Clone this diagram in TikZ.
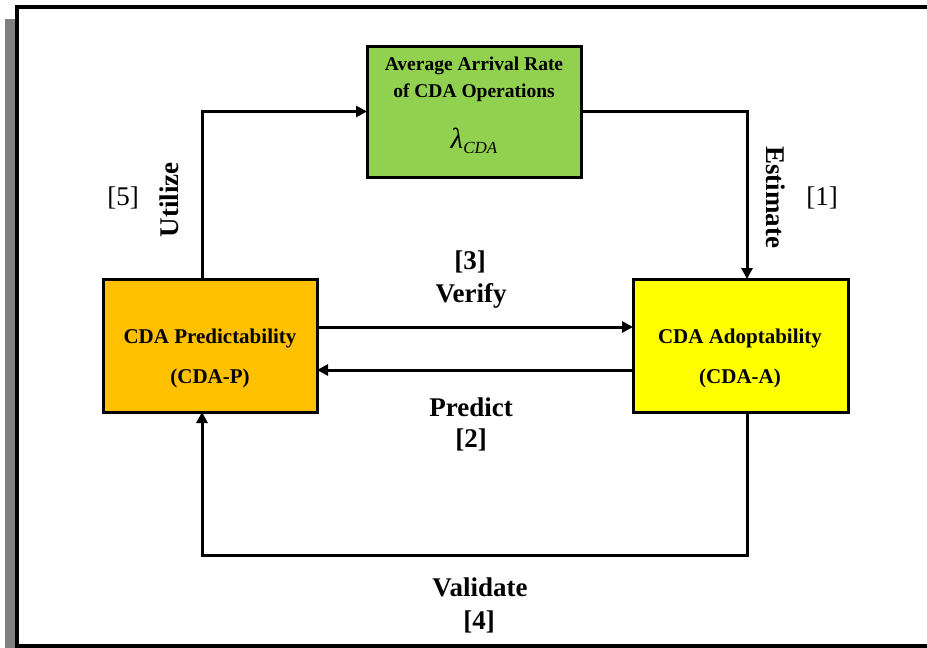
\documentclass[tikz,border=0pt]{standalone}
\usepackage{fontspec}
\setmainfont{Liberation Serif}
\usetikzlibrary{arrows.meta}
\definecolor{boxgreen}{HTML}{92D050}
\definecolor{boxorange}{HTML}{FFC000}
\definecolor{boxyellow}{HTML}{FFFF00}
\definecolor{shadowgray}{HTML}{808080}
\begin{document}
\begin{tikzpicture}[x=1pt,y=-1pt,
  box/.style={draw=black,line width=3pt,rectangle,outer sep=0pt,inner sep=0pt},
  arr/.style={line width=3pt,-{Triangle[length=11pt,width=11pt]}},
  boxtxt/.style={inner sep=0pt,font=\fontsize{21}{24}\selectfont\bfseries},
  greentxt/.style={inner sep=0pt,font=\fontsize{19.5}{22}\selectfont\bfseries},
  lbl/.style={inner sep=0pt,font=\fontsize{27}{30}\selectfont\bfseries},
  lblr/.style={inner sep=0pt,font=\fontsize{27}{30}\selectfont}]
\useasboundingbox (0,0) rectangle (927,648);
% frame
\fill[shadowgray] (5,19) rectangle (15,648);
\fill[black] (15,5) rectangle (927,9);
\fill[black] (15,5) rectangle (19,648);
\fill[black] (15,644) rectangle (927,648);
% boxes
\node[box,fill=boxgreen,minimum width=214pt,minimum height=131pt] (green) at (474,111.5) {};
\node[box,fill=boxorange,minimum width=214pt,minimum height=133pt] (pred) at (210,345.5) {};
\node[box,fill=boxyellow,minimum width=215pt,minimum height=133pt] (adopt) at (740.5,345.5) {};
% box texts
\node[greentxt] (g1) at (474,66) {Average Arrival Rate};
\node[greentxt] (g2) at (474,93) {of CDA Operations};
\node[inner sep=0pt] (g3) at (474,141) {{\fontsize{29}{30}\selectfont\itshape λ}\raisebox{-5pt}{\fontsize{17}{18}\selectfont\itshape CDA}};
\node[boxtxt] (p1) at (210,338) {CDA Predictability};
\node[boxtxt] (p2) at (210,378) {(CDA-P)};
\node[boxtxt] (a1) at (740,338) {CDA Adoptability};
\node[boxtxt] (a2) at (740,378) {(CDA-A)};
% connectors
\draw[arr] ([xshift=-8pt]pred.north) |- (green.west);
\draw[arr] (green.east) -| ([xshift=6.5pt]adopt.north);
\draw[arr] ([yshift=18.5pt]pred.east) -- ([yshift=18.5pt]adopt.west);
\draw[arr] ([yshift=-24.5pt]adopt.west) -- ([yshift=-24.5pt]pred.east);
\draw[arr] ([xshift=6.5pt]adopt.south) -- ++(0,143) -| ([xshift=-8pt]pred.south);
% labels
\node[lblr] (l5) at (123,198) {[5]};
\node[lbl,rotate=90] (lu) at (169,200) {Utilize};
\node[lbl,rotate=-90] (le) at (776,197) {Estimate};
\node[lblr] (l1) at (822,198) {[1]};
\node[lbl] (l3) at (470,262) {[3]};
\node[lbl] (lv) at (471,296) {Verify};
\node[lbl] (lp) at (471,407) {Predict};
\node[lbl] (l2) at (471,440) {[2]};
\node[lbl] (lva) at (480,587) {Validate};
\node[lbl] (l4) at (479,622) {[4]};
\end{tikzpicture}
\end{document}
